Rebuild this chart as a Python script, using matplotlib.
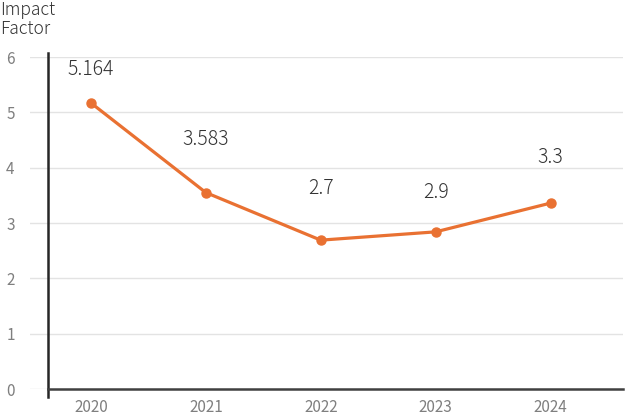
import matplotlib
matplotlib.use("Agg")
import matplotlib.pyplot as plt

plt.rcParams['font.family'] = ['Noto Sans CJK JP', 'DejaVu Sans']

years = ['2020', '2021', '2022', '2023', '2024']
impact = [5.17, 3.55, 2.69, 2.84, 3.36]
labels = ['5.164', '3.583', '2.7', '2.9', '3.3']
yticks = [0, 1, 2, 3, 4, 5, 6]

orange = '#E97132'
xs = list(range(len(years)))

fig = plt.figure(figsize=(6.28, 4.18), dpi=100)
ax = fig.add_axes([30 / 628, 1 - 389 / 418, 593 / 628, 332 / 418])

ax.set_xlim(-0.53, 4.63)
ax.set_ylim(0, 6)
for s in ax.spines.values():
    s.set_visible(False)

ax.set_yticks(yticks)
ax.grid(axis='y', color='#E3E3E3', linewidth=1)
ax.set_axisbelow(True)
ax.tick_params(axis='y', length=0, pad=11, labelsize=11, labelcolor='#7F7F7F')
ax.set_xticks(xs)
ax.set_xticklabels(years)
ax.tick_params(axis='x', length=0, pad=7, labelsize=11, labelcolor='#7F7F7F')

# axis lines
x0 = -0.374
ax.plot([x0, x0], [-0.15, 6.08], color='#262626', lw=1.8, clip_on=False, zorder=3)
ax.plot([x0, 4.63], [0, 0], color='#404040', lw=1.8, clip_on=False, zorder=3)

ax.plot(xs, impact, color=orange, lw=2.3, marker='o', markersize=6.5, zorder=4)

offsets = [33, 53, 52, 39, 46]
for x, y, t, off in zip(xs, impact, labels, offsets):
    ax.annotate(t, (x, y), xytext=(0, off), textcoords='offset pixels',
                ha='center', va='center', fontsize=14, color='#333333',
                fontweight='light')

fig.text(0, 1 - 1 / 418, 'Impact\nFactor', ha='left', va='top', fontsize=12.5,
         color='#333333', linespacing=1.05, fontweight='light')

fig.savefig('out.png', dpi=100)
